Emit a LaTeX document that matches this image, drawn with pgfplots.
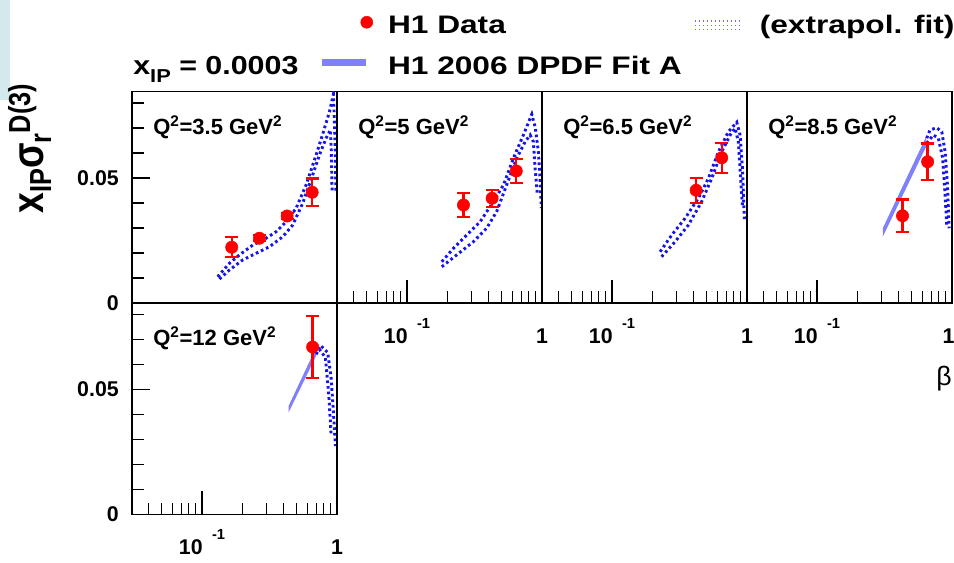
\documentclass[border=0pt]{standalone}
\usepackage{fontspec}
\setmainfont{Liberation Sans}
\newfontfamily\titlefont{Liberation Sans}[FakeStretch=1.17]
\newfontfamily\legfont{Liberation Sans}[FakeStretch=1.25]
\usepackage{pgfplots}
\pgfplotsset{compat=1.18}

\definecolor{dred}{RGB}{255,0,0}
\definecolor{dblue}{RGB}{20,20,235}
\definecolor{bandc}{RGB}{128,128,250}
\definecolor{legdotc}{RGB}{110,110,255}
\definecolor{slide}{RGB}{212,233,236}

\newcommand{\tenm}{10\hspace{7pt}\raisebox{11.5pt}{\fontsize{11}{11}\selectfont -1}}
\newcommand{\qlab}[1]{\node[anchor=base west, inner sep=0pt, font=\bfseries\fontsize{16.5}{19}\selectfont] at (rel axis cs:0.1024,0.7965) {Q\textsuperscript{2}=#1 GeV\textsuperscript{2}};}

\pgfplotsset{
  panel/.style={
    scale only axis, width=153.75pt, height=158.4375pt,
    xmin=0.0303, xmax=1, ymin=0, ymax=0.0845,
    scaled y ticks=false,
    anchor=south west,
    axis line style={line width=0.9pt},
    tick style={black, line width=0.8pt},
    tick align=inside, tick pos=left,
    minor tick length=8.75pt,
    tick label style={font=\bfseries\fontsize{16}{18}\selectfont},
    xticklabel style={inner sep=0pt, yshift=-11pt},
    yticklabel style={inner sep=0pt, xshift=-9.75pt},
  },
  xt/.style={xtick={0.1,1}, xticklabels={\tenm,\vphantom{\tenm}1},
    minor xtick={0.04,0.05,0.06,0.07,0.08,0.09,0.2,0.3,0.4,0.5,0.6,0.7,0.8,0.9},
    major tick length=17.25pt},
  noxt/.style={xtick=\empty},
  yt/.style={ytick={0,0.05}, yticklabels={0,0.05},
    minor ytick={0.01,0.02,0.03,0.04,0.06,0.07,0.08}, major tick length=13.5pt},
  noyt/.style={ytick=\empty},
  dotfit/.style={dblue, line width=2.2pt, dash pattern=on 2pt off 2.2pt, no markers},
  hdata/.style={only marks, mark=*, mark size=4.6pt, dred, mark options={fill=dred, draw=dred},
    error bars/y dir=both, error bars/y explicit,
    error bars/error bar style={line width=1.8pt, dred},
    error bars/error mark options={line width=1.8pt, mark size=4.8pt, dred, rotate=90}},
  band/.style={fill=bandc, draw=none, no markers},
}

\begin{document}
\begin{tikzpicture}
\path[use as bounding box] (0pt,0pt) rectangle (715.5pt,421.5pt);
\fill[slide] (0pt,346.5pt) rectangle (7.5pt,421.5pt);

% ---------- Panel 1: Q2 = 3.5
\begin{axis}[xmode=log, panel, at={(99pt,194.25pt)}, noxt, yt,
  legend columns=2, legend cell align=left,
  legend style={at={(axis description cs:0.9073,1.3665)}, anchor=north west,
    draw=none, fill=none, inner sep=0pt, column sep=9pt, row sep=12.75pt,
    font=\legfont\bfseries\fontsize{19}{22}\selectfont,
    nodes={inner sep=0pt, text height=14pt, text depth=4pt}}]
\addlegendimage{legend image code/.code={\path (0pt,0pt) (40.5pt,0pt); \fill[dred] (33.75pt,3.25pt) circle[radius=4.5pt];}}
\addlegendentry{H1 Data}
\addlegendimage{legend image code/.code={\path (0pt,0pt) (39.75pt,0pt);
  \draw[legdotc, line width=1pt, dash pattern=on 1pt off 2pt] (0pt,4.25pt) -- (33.75pt,4.25pt);
  \draw[legdotc, line width=1pt, dash pattern=on 1pt off 2pt] (0pt,1pt) -- (33.75pt,1pt);
  \draw[legdotc, line width=1pt, dash pattern=on 1pt off 2pt] (0pt,-2.25pt) -- (33.75pt,-2.25pt);}}
\addlegendentry{(extrapol. fit)}
\addlegendimage{legend image code/.code={\path (0pt,0pt) (40.5pt,0pt); \draw[bandc, line width=5.25pt] (0pt,4pt) -- (33pt,4pt);}}
\addlegendentry{H1 2006 DPDF Fit A}
\addplot[dotfit] coordinates {(0.1306,0.0105) (0.1596,0.0159) (0.189,0.0192) (0.238,0.0232) (0.298,0.0259) (0.354,0.0285) (0.42,0.0325) (0.498,0.0379) (0.59,0.0472) (0.70,0.0592) (0.78,0.0672) (0.88,0.0765) (0.94,0.0835) (0.955,0.0739) (0.971,0.0605) (0.982,0.0445)};
\addplot[dotfit] coordinates {(0.1346,0.0096) (0.1596,0.0132) (0.2,0.0172) (0.252,0.0199) (0.316,0.0225) (0.396,0.0265) (0.47,0.0312) (0.557,0.0399) (0.66,0.0512) (0.741,0.0592) (0.83,0.0659) (0.893,0.0692) (0.908,0.0605) (0.92,0.0445)};
\addplot[hdata] coordinates {(0.166,0.0223) +- (0,0.004) (0.266,0.0259) +- (0,0.0012) (0.427,0.0348) +- (0,0.0012) (0.655,0.0443) +- (0,0.0055)};
\qlab{3.5}
\end{axis}

% ---------- Panel 2: Q2 = 5
\begin{axis}[xmode=log, panel, at={(252.75pt,194.25pt)}, xt, noyt]
\addplot[dotfit] coordinates {(0.181,0.0165) (0.221,0.0219) (0.277,0.0272) (0.348,0.0325) (0.436,0.0405) (0.518,0.0472) (0.614,0.0579) (0.728,0.0672) (0.84,0.0755) (0.893,0.070) (0.94,0.0605) (0.967,0.050) (0.99,0.038)};
\addplot[dotfit] coordinates {(0.181,0.0145) (0.233,0.0192) (0.31,0.0245) (0.389,0.0299) (0.461,0.0365) (0.547,0.0472) (0.65,0.0579) (0.75,0.0645) (0.817,0.0672) (0.863,0.0645) (0.889,0.0539) (0.925,0.0432)};
\addplot[hdata] coordinates {(0.262,0.0392) +- (0,0.0048) (0.427,0.0419) +- (0,0.0034) (0.645,0.0528) +- (0,0.0047)};
\qlab{5}
\end{axis}

% ---------- Panel 3: Q2 = 6.5
\begin{axis}[xmode=log, panel, at={(406.5pt,194.25pt)}, xt, noyt]
\addplot[dotfit] coordinates {(0.227,0.0205) (0.277,0.0272) (0.348,0.0339) (0.436,0.0419) (0.518,0.0499) (0.614,0.0605) (0.728,0.0685) (0.84,0.0723) (0.889,0.0672) (0.925,0.0539) (0.957,0.0332)};
\addplot[dotfit] coordinates {(0.233,0.0185) (0.293,0.0245) (0.368,0.0312) (0.461,0.0405) (0.548,0.0499) (0.65,0.0605) (0.75,0.0672) (0.817,0.0699) (0.863,0.0645) (0.904,0.0472) (0.925,0.0392)};
\addplot[hdata] coordinates {(0.42,0.0451) +- (0,0.005) (0.65,0.0581) +- (0,0.006)};
\qlab{6.5}
\end{axis}

% ---------- Panel 4: Q2 = 8.5
\begin{axis}[xmode=log, panel, at={(560.25pt,194.25pt)}, xt, noyt,
  xticklabels={\tenm,\vphantom{\tenm}1\kern5pt}]
\addplot[band] coordinates {(0.307,0.0265) (0.643,0.0625) (0.643,0.0665) (0.307,0.0299)} -- cycle;
\addplot[dotfit] coordinates {(0.65,0.0659) (0.687,0.0692) (0.77,0.0701) (0.84,0.0685) (0.889,0.0605) (0.925,0.0472) (0.953,0.0299)};
\addplot[dotfit] coordinates {(0.65,0.0639) (0.728,0.0672) (0.793,0.0659) (0.853,0.0579) (0.889,0.0432) (0.914,0.0312)};
\addplot[hdata] coordinates {(0.43,0.0349) +- (0,0.0065) (0.66,0.0565) +- (0,0.0073)};
\qlab{8.5}
\end{axis}

% ---------- Panel 5: Q2 = 12
\begin{axis}[xmode=log, panel, at={(99pt,35.8125pt)}, xt, noyt]
\addplot[band] coordinates {(0.438,0.0407) (0.70,0.0633) (0.70,0.0667) (0.438,0.0433)} -- cycle;
\addplot[dotfit] coordinates {(0.70,0.0667) (0.762,0.0673) (0.853,0.0647) (0.904,0.0547) (0.94,0.0413) (0.973,0.0273)};
\addplot[dotfit] coordinates {(0.70,0.064) (0.741,0.066) (0.82,0.0627) (0.869,0.048) (0.904,0.032)};
\addplot[hdata] coordinates {(0.66,0.0669) +- (0,0.0123)};
\qlab{12}
\end{axis}
\begin{axis}[xmode=log, panel, at={(99pt,35.8125pt)}, noxt, yt, hide x axis]
\end{axis}

% ---------- texts
\node[anchor=base west, inner sep=0pt, font=\titlefont\bfseries\fontsize{19.5}{22}\selectfont] at (99.75pt,366pt)
  {x\raisebox{-6pt}{\fontsize{14}{14}\selectfont IP} = 0.0003};
\node[anchor=base, inner sep=0pt, rotate=90] at (32.25pt,310pt)
  {\scalebox{1}[1.2]{\bfseries\fontsize{28}{30}\selectfont x\raisebox{-5pt}{\fontsize{19}{19}\selectfont IP}σ\raisebox{-5pt}{\fontsize{19}{19}\selectfont r}\raisebox{8pt}{\fontsize{19}{19}\selectfont D(3)}}};
\node[anchor=base east, inner sep=0pt, font=\fontsize{20}{22}\selectfont] at (714pt,132.75pt) {β};
\end{tikzpicture}
\end{document}
